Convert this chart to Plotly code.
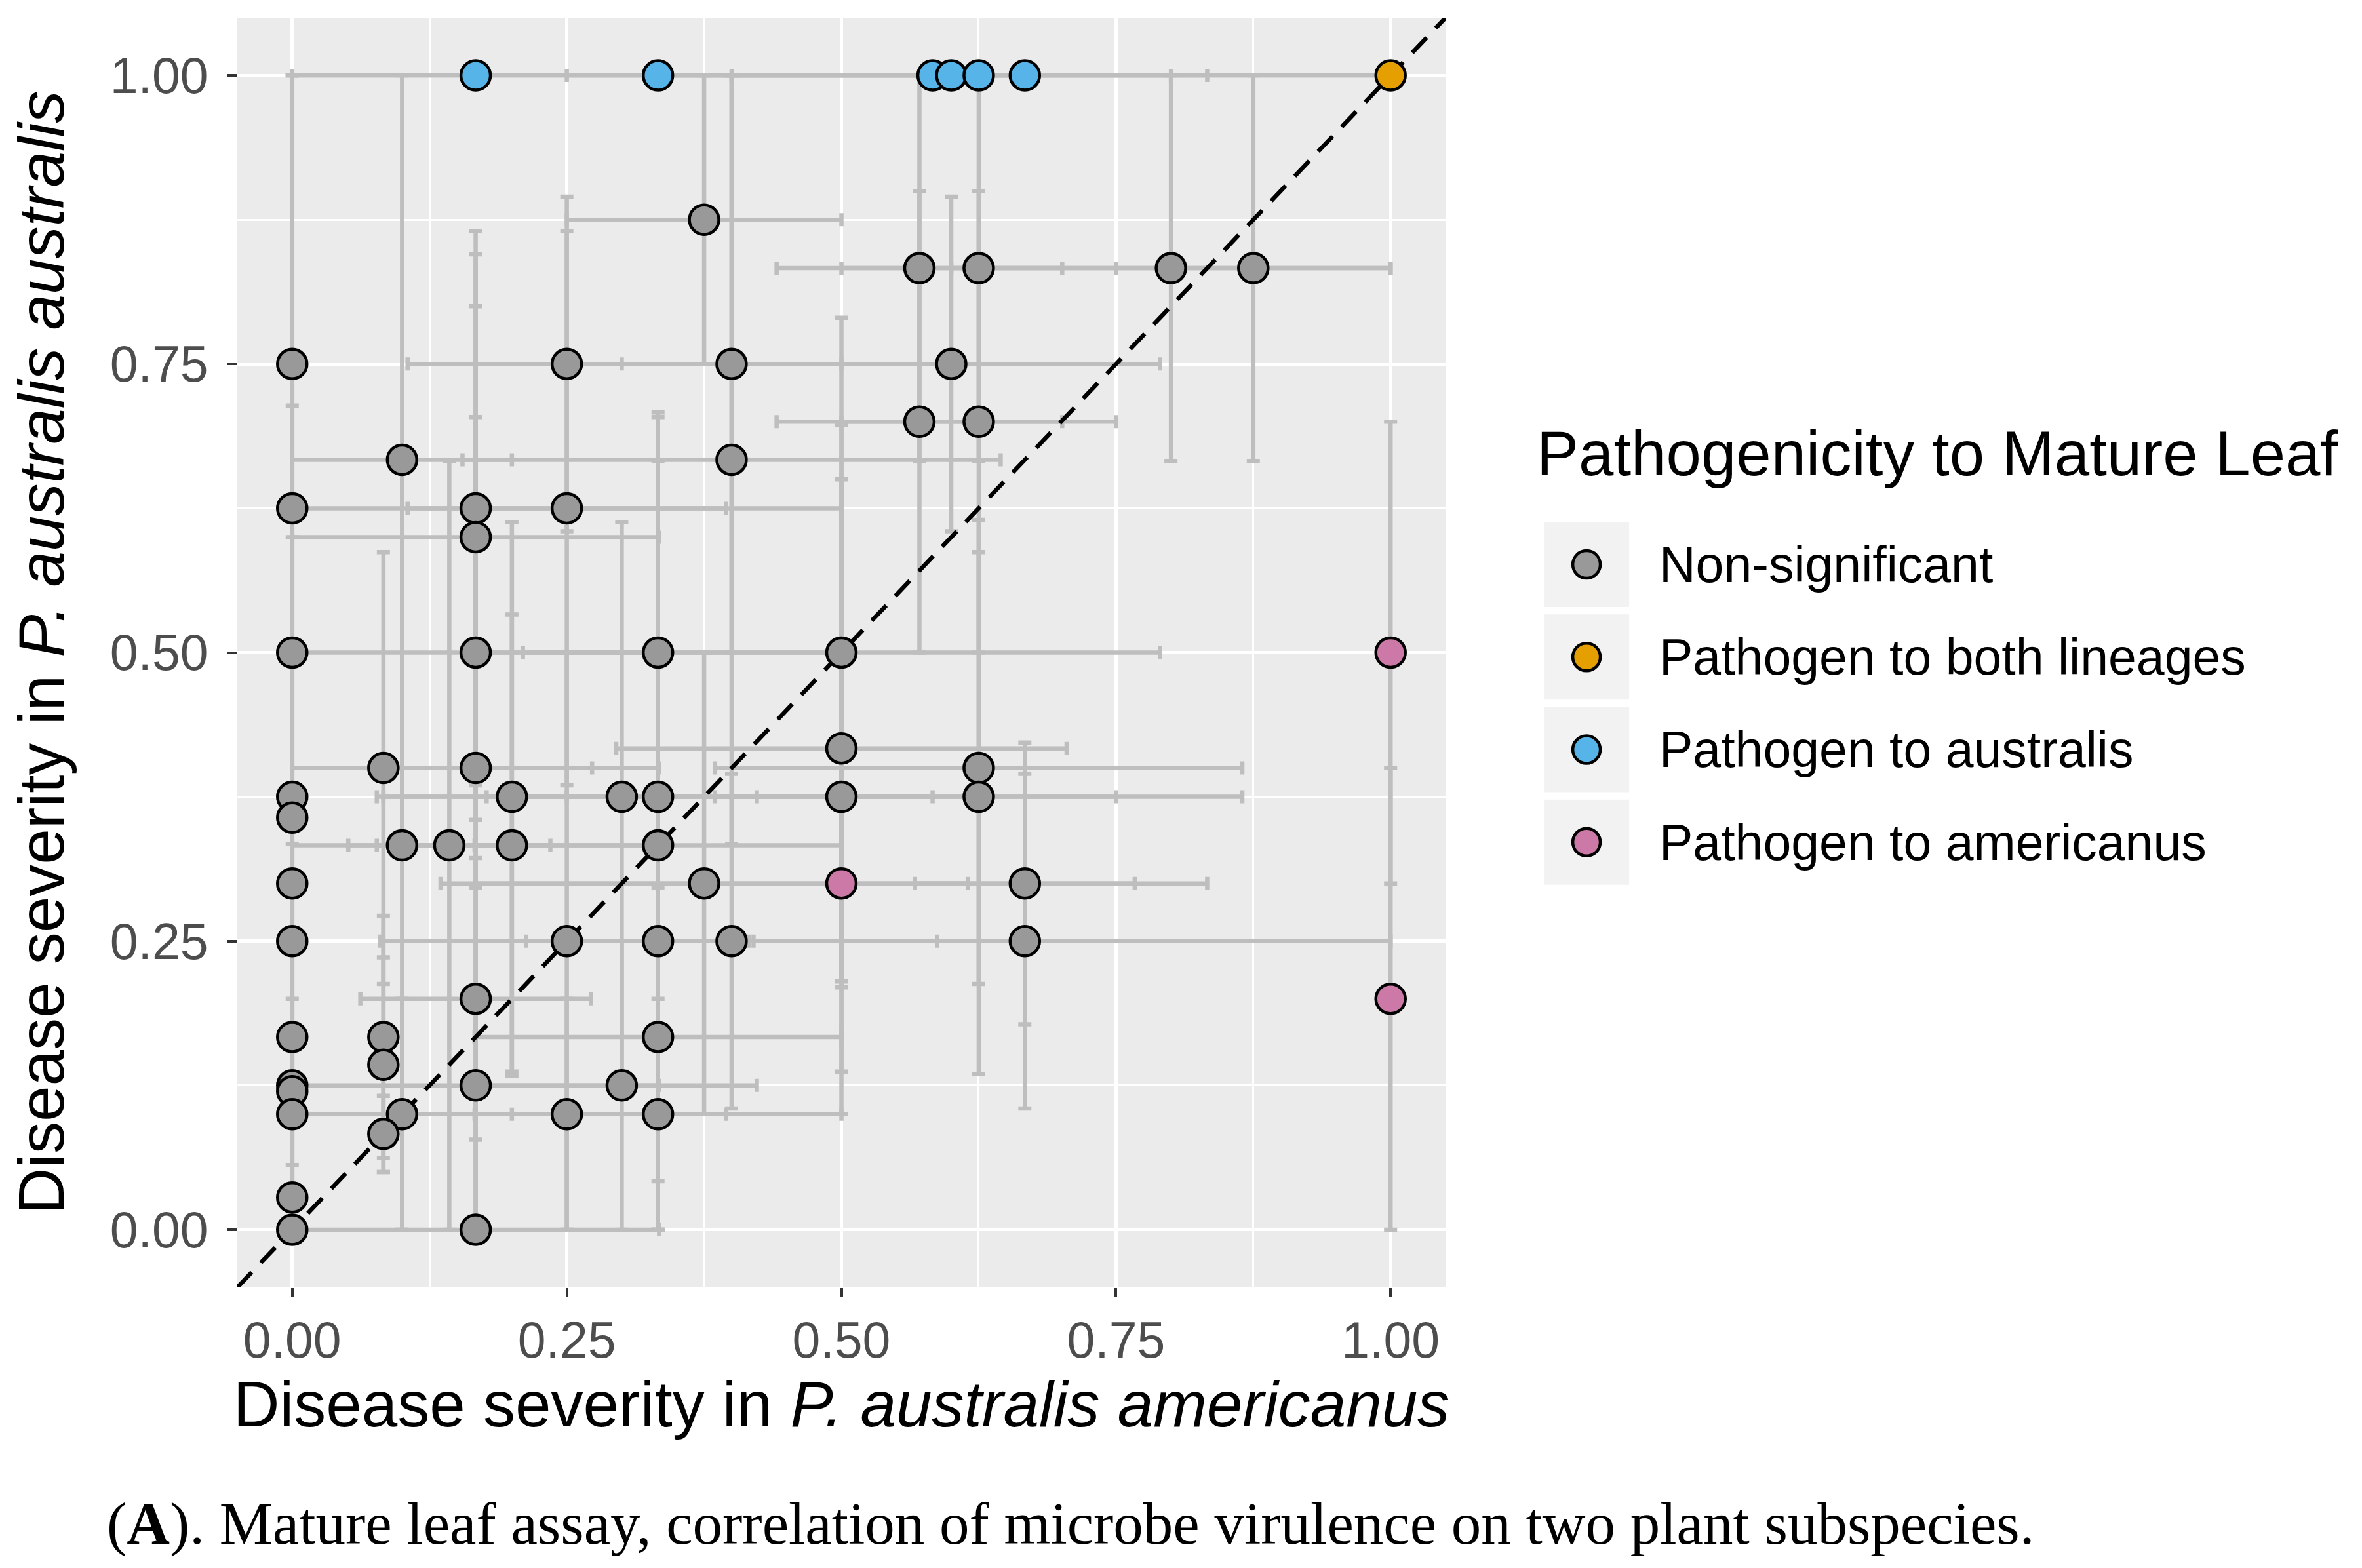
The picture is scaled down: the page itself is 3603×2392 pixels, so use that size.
import plotly.graph_objects as go

groups = ["Non-significant", "Pathogen to both lineages",
          "Pathogen to australis", "Pathogen to americanus"]
group_colors = ["#999999", "#E69F00", "#56B4E9", "#CC79A7"]

# mean disease severity per isolate: x on americanus, y on australis
x_mean = [0.0, 0.1, 0.0, 0.167, 0.25, 0.167, 0.25, 0.4, 0.4, 0.375,
          0.571, 0.625, 0.8, 0.875, 0.6, 0.571, 0.625,
          0.0, 0.167, 0.333, 0.5, 0.5, 0.5, 0.625, 0.625,
          0.083, 0.167, 0.2, 0.3, 0.333, 0.0, 0.0,
          0.1, 0.143, 0.2, 0.333, 0.0, 0.375, 0.667,
          0.0, 0.25, 0.333, 0.4, 0.667, 0.167,
          0.0, 0.083, 0.333, 0.083, 0.0, 0.0, 0.167, 0.3,
          0.0, 0.1, 0.25, 0.333, 0.083, 0.0, 0.0, 0.167,
          1.0,
          0.167, 0.333, 0.583, 0.6, 0.625, 0.667,
          1.0, 1.0, 0.5]
y_mean = [0.75, 0.667, 0.625, 0.625, 0.625, 0.6, 0.75, 0.75, 0.667, 0.875,
          0.833, 0.833, 0.833, 0.833, 0.75, 0.7, 0.7,
          0.5, 0.5, 0.5, 0.5, 0.417, 0.375, 0.4, 0.375,
          0.4, 0.4, 0.375, 0.375, 0.375, 0.375, 0.357,
          0.333, 0.333, 0.333, 0.333, 0.3, 0.3, 0.3,
          0.25, 0.25, 0.25, 0.25, 0.25, 0.2,
          0.167, 0.167, 0.167, 0.143, 0.125, 0.12, 0.125, 0.125,
          0.1, 0.1, 0.1, 0.1, 0.083, 0.028, 0.0, 0.0,
          1.0,
          1.0, 1.0, 1.0, 1.0, 1.0, 1.0,
          0.5, 0.2, 0.3]
# standard errors
x_se = [0.0, 0.1, 0.0, 0.333, 0.145, 0.167, 0.145, 0.1, 0.245, 0.125,
        0.13, 0.125, 0.2, 0.125, 0.19, 0.13, 0.125,
        0.0, 0.167, 0.167, 0.29, 0.205, 0.25, 0.24, 0.24,
        0.19, 0.167, 0.123, 0.123, 0.25, 0.0, 0.0,
        0.1, 0.092, 0.123, 0.167, 0.0, 0.24, 0.1,
        0.0, 0.17, 0.083, 0.187, 0.333, 0.105,
        0.0, 0.0, 0.167, 0.0, 0.0, 0.0, 0.167, 0.123,
        0.0, 0.1, 0.145, 0.167, 0.0, 0.0, 0.0, 0.167,
        0.0,
        0.167, 0.333, 0.25, 0.2, 0.375, 0.333,
        0.0, 0.0, 0.333]
y_se = [0.25, 0.333, 0.375, 0.24, 0.24, 0.245, 0.145, 0.25, 0.333, 0.125,
        0.167, 0.167, 0.167, 0.167, 0.145, 0.2, 0.2,
        0.5, 0.204, 0.204, 0.29, 0.28, 0.275, 0.187, 0.24,
        0.187, 0.4, 0.238, 0.238, 0.333, 0.375, 0.357,
        0.333, 0.333, 0.2, 0.333, 0.3, 0.2, 0.122,
        0.25, 0.25, 0.25, 0.145, 0.145, 0.122,
        0.167, 0.105, 0.167, 0.093, 0.125, 0.12, 0.125, 0.125,
        0.1, 0.1, 0.1, 0.1, 0.033, 0.028, 0.0, 0.0,
        0.0,
        0.0, 0.0, 0.0, 0.0, 0.0, 0.0,
        0.2, 0.2, 0.085]
group = ["Non-significant"] * 61 + ["Pathogen to both lineages"] + \
        ["Pathogen to australis"] * 6 + ["Pathogen to americanus"] * 3

# error bars are cut at the 0..1 limits
x_hi = [min(e, 1 - v) for v, e in zip(x_mean, x_se)]
x_lo = [min(e, v) for v, e in zip(x_mean, x_se)]
y_hi = [min(e, 1 - v) for v, e in zip(y_mean, y_se)]
y_lo = [min(e, v) for v, e in zip(y_mean, y_se)]

bar_col = "#BEBEBE"
fig = go.Figure()

fig.add_trace(go.Scatter(
    x=x_mean, y=y_mean, mode="markers",
    marker=dict(size=1, color="rgba(0,0,0,0)"),
    error_x=dict(type="data", symmetric=False, array=x_hi, arrayminus=x_lo,
                 color=bar_col, thickness=6.5, width=10),
    error_y=dict(type="data", symmetric=False, array=y_hi, arrayminus=y_lo,
                 color=bar_col, thickness=6.5, width=10),
    showlegend=False, hoverinfo="skip"))

# 1:1 line
fig.add_trace(go.Scatter(x=[-0.05, 1.05], y=[-0.05, 1.05], mode="lines",
                         line=dict(color="black", width=6.5, dash="32px,20px"),
                         showlegend=False, hoverinfo="skip"))

for g, c in zip(groups, group_colors):
    idx = [i for i, k in enumerate(group) if k == g]
    fig.add_trace(go.Scatter(
        x=[x_mean[i] for i in idx], y=[y_mean[i] for i in idx],
        mode="markers", name=g, showlegend=False,
        marker=dict(size=45, color=c, line=dict(color="black", width=4.5))))

font = "Liberation Sans, Arial, sans-serif"
ticks = [0, 0.25, 0.5, 0.75, 1.0]
axis = dict(range=[-0.05, 1.05], tickvals=ticks,
            ticktext=["%.2f" % t for t in ticks],
            showgrid=True, gridcolor="white", gridwidth=5, zeroline=False,
            ticks="outside", ticklen=14, tickwidth=4, tickcolor="#333333",
            tickfont=dict(family=font, size=77, color="#4D4D4D"),
            minor=dict(tickvals=[0.125, 0.375, 0.625, 0.875], showgrid=True,
                       gridcolor="white", gridwidth=2.5, ticks=""),
            showline=False)

fig.update_layout(
    width=3603, height=2392,
    margin=dict(l=354, r=1406, t=19, b=436),
    paper_bgcolor="white", plot_bgcolor="#EBEBEB",
    font=dict(family=font, color="black"),
    xaxis=dict(axis, ticklabelstandoff=0,
               title=dict(text="Disease severity in <i>P. australis americanus</i>",
                          font=dict(size=98, color="black"), standoff=18)),
    yaxis=dict(axis, ticklabelstandoff=14,
               title=dict(text="Disease severity in <i>P. australis australis</i>",
                          font=dict(size=98, color="black"), standoff=46)),
)

# legend drawn by hand so the keys match the ggplot look
fig.add_annotation(x=1.0743, y=0.6572, xref="paper", yref="paper",
                   text="Pathogenicity to Mature Leaf", showarrow=False,
                   xanchor="left", yanchor="middle",
                   font=dict(family=font, size=96, color="black"))
for k, (g, c) in enumerate(zip(groups, group_colors)):
    yc = 0.5694 - k * 0.0729
    fig.add_shape(type="rect", xref="paper", yref="paper",
                  xsizemode="pixel", ysizemode="pixel",
                  xanchor=1.1167, yanchor=yc, x0=-65, x1=65, y0=-65, y1=65,
                  fillcolor="#F2F2F2", line=dict(width=0))
    fig.add_shape(type="circle", xref="paper", yref="paper",
                  xsizemode="pixel", ysizemode="pixel",
                  xanchor=1.1167, yanchor=yc, x0=-21, x1=21, y0=-21, y1=21,
                  fillcolor=c, line=dict(color="black", width=4.5))
    fig.add_annotation(x=1.1758, y=yc, xref="paper", yref="paper", text=g,
                       showarrow=False, xanchor="left", yanchor="middle",
                       font=dict(family=font, size=77, color="black"))

fig.add_annotation(x=-0.109, y=-0.186, xref="paper", yref="paper",
                   text="(<b>A</b>). Mature leaf assay, correlation of microbe "
                        "virulence on two plant subspecies.",
                   showarrow=False, xanchor="left", yanchor="middle",
                   font=dict(family="Liberation Serif, serif", size=91,
                             color="black"))

fig.write_html("out.html")
